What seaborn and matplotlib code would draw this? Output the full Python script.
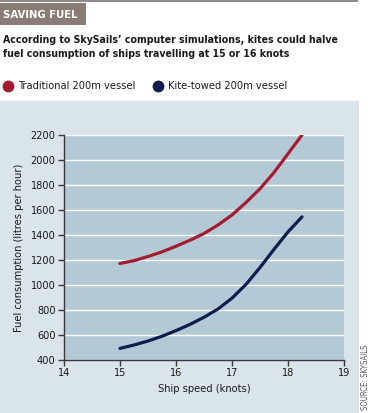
#!/usr/bin/env python3
"""Saving fuel: SkySails kite simulation chart."""

import matplotlib as mpl
import matplotlib.pyplot as plt
from matplotlib.lines import Line2D
from matplotlib.patches import Rectangle
import pandas as pd
import seaborn as sns

# data
speed = [15.0, 15.25, 15.5, 15.75, 16.0, 16.25, 16.5, 16.75, 17.0, 17.25, 17.5, 17.75, 18.0, 18.25]
traditional = [1172, 1195, 1228, 1265, 1310, 1358, 1412, 1480, 1560, 1660, 1770, 1900, 2050, 2200]
kite_towed = [493, 520, 552, 590, 635, 685, 742, 808, 895, 1005, 1140, 1285, 1425, 1545]
series_names = ["Traditional 200m vessel", "Kite-towed 200m vessel"]
x_ticks = [14, 15, 16, 17, 18, 19]
y_ticks = [400, 600, 800, 1000, 1200, 1400, 1600, 1800, 2000, 2200]

COLOR = {
    "red": "#a51c30",
    "navy": "#0e1c4e",
    "panel": "#d9e4eb",
    "plot": "#b3c9d5",
    "banner": "#8a7c75",
    "ink": "#1a1a1a",
    "axis": "#3a3a3a",
    "rule": "#8c8c8c",
}
FONT = ["DejaVu Sans"]


def main() -> None:
    sns.set_style("white")
    mpl.rcParams.update({"font.family": FONT, "font.stretch": "condensed"})

    fig = plt.figure(figsize=(3.79, 4.13), dpi=100)
    W, H = 379, 413

    def fx(px):
        return px / W

    def fy(py):
        return 1 - py / H

    # top rule and banner
    fig.add_artist(Rectangle((0, fy(1.5)), fx(358), 1.5 / H, transform=fig.transFigure,
                             color=COLOR["rule"], lw=0))
    fig.add_artist(Rectangle((0, fy(25)), fx(86), 22 / H, transform=fig.transFigure,
                             color=COLOR["banner"], lw=0))
    fig.text(fx(3), fy(14.5), "SAVING FUEL", color="white", fontsize=8.1, fontweight="bold",
             fontstretch="condensed", va="center", ha="left")
    fig.text(fx(3), fy(47), "According to SkySails\u2019 computer simulations, kites could halve\n"
             "fuel consumption of ships travelling at 15 or 16 knots",
             color=COLOR["ink"], fontsize=7.6, fontweight="bold", fontstretch="condensed",
             va="center", ha="left", linespacing=1.5)

    # legend
    for cx, tx, col, name in [(8, 18, COLOR["red"], series_names[0]),
                              (158, 168, COLOR["navy"], series_names[1])]:
        fig.add_artist(Line2D([fx(cx)], [fy(86)], marker="o", markersize=7.5, color=col,
                              transform=fig.transFigure))
        fig.text(fx(tx), fy(86), name, color=COLOR["ink"], fontsize=7.9, va="center",
                 ha="left", fontstretch="condensed")

    # light chart panel
    fig.add_artist(Rectangle((0, 0), fx(359), fy(101), transform=fig.transFigure,
                             color=COLOR["panel"], lw=0, zorder=0))

    ax = fig.add_axes([fx(64), fy(360), fx(344 - 64), (360 - 135) / H])
    ax.set_facecolor(COLOR["plot"])

    df = pd.DataFrame({
        "speed": speed * 2,
        "fuel": traditional + kite_towed,
        "series": [series_names[0]] * len(speed) + [series_names[1]] * len(speed),
    })
    sns.lineplot(data=df, x="speed", y="fuel", hue="series",
                 palette={series_names[0]: COLOR["red"], series_names[1]: COLOR["navy"]},
                 linewidth=2.3, legend=False, ax=ax, zorder=3)

    ax.set_xlim(14, 19)
    ax.set_ylim(400, 2200)
    ax.set_xticks(x_ticks)
    ax.set_yticks(y_ticks)
    ax.grid(axis="y", color="white", linewidth=1.0)
    ax.grid(axis="x", visible=False)
    for side in ["top", "right"]:
        ax.spines[side].set_visible(False)
    for side in ["left", "bottom"]:
        ax.spines[side].set_color(COLOR["axis"])
        ax.spines[side].set_linewidth(1.0)
    ax.tick_params(axis="both", direction="out", length=4, width=1.0, color=COLOR["axis"],
                   labelsize=7.8, labelcolor=COLOR["ink"], pad=2, left=True, bottom=True)
    ax.set_xlabel("Ship speed (knots)", fontsize=7.9, color=COLOR["ink"], labelpad=4)
    ax.set_ylabel("Fuel consumption (litres per hour)", fontsize=7.9, color=COLOR["ink"],
                  labelpad=5)

    fig.text(fx(366), fy(377), "SOURCE: SKYSAILS", rotation=90, fontsize=5.6,
             color="#555555", va="center", ha="center", fontstretch="condensed")

    fig.savefig("out.png", dpi=100)


if __name__ == "__main__":
    main()
